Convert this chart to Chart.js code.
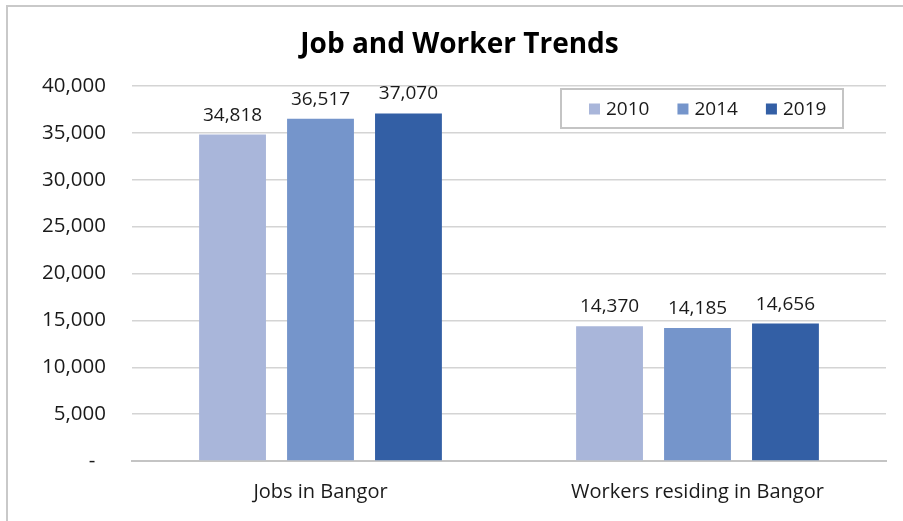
<!DOCTYPE html>
<html>
<head>
<meta charset="utf-8">
<script src="https://cdn.jsdelivr.net/npm/chart.js@4.4.1/dist/chart.umd.min.js"></script>
<style>
  html, body { margin: 0; padding: 0; background: #fff; overflow: hidden; }
  #wrap { position: relative; width: 903px; height: 521px; overflow: hidden; }
  #frame { position: absolute; left: 6px; top: 5px; width: 910px; height: 530px;
           border: 2px solid #c9c9c9; box-sizing: border-box; pointer-events: none; }
  canvas { position: absolute; left: 0; top: 0; }
</style>
</head>
<body>
<div id="wrap">
  <canvas id="chart" width="903" height="521"></canvas>
  <div id="frame"></div>
</div>
<script>
const categories = ["Jobs in Bangor", "Workers residing in Bangor"];
const years = ["2010", "2014", "2019"];
const values2010 = [34818, 14370];
const values2014 = [36517, 14185];
const values2019 = [37070, 14656];
const yTicks = [0, 5000, 10000, 15000, 20000, 25000, 30000, 35000, 40000];
const chartTitle = "Job and Worker Trends";

const colors = ["#a9b6da", "#7595cb", "#335fa5"];
const FONT = "'Open Sans', sans-serif";

// accounting style: zero shows as a dash, set in a little from the right
const fmt = (v) => (v === 0 ? "-  " : v.toLocaleString("en-US"));

// title drawn by hand so it can sit a bit right of centre like the original
const titlePlugin = {
  id: "titlePlugin",
  afterDraw(chart) {
    const ctx = chart.ctx;
    ctx.save();
    ctx.font = "bold 28px " + FONT;
    ctx.fillStyle = "#000";
    ctx.textAlign = "center";
    ctx.textBaseline = "alphabetic";
    ctx.fillText(chartTitle, chart.width / 2 + 8, 53);
    ctx.restore();
  },
};

// value labels above each bar
const barLabels = {
  id: "barLabels",
  afterDatasetsDraw(chart) {
    const ctx = chart.ctx;
    ctx.save();
    ctx.font = "19px " + FONT;
    ctx.fillStyle = "#1a1a1a";
    ctx.textAlign = "center";
    ctx.textBaseline = "alphabetic";
    chart.data.datasets.forEach((ds, i) => {
      const meta = chart.getDatasetMeta(i);
      meta.data.forEach((bar, j) => {
        ctx.fillText(ds.data[j].toLocaleString("en-US"), bar.x, bar.y - 14);
      });
    });
    ctx.restore();
  },
};

// boxed legend sitting inside the plot, top right
const boxLegend = {
  id: "boxLegend",
  afterDraw(chart) {
    const ctx = chart.ctx;
    const area = chart.chartArea;
    const w = 282, h = 39;
    const left = area.right - 43 - w;
    const top = area.top + 3;
    ctx.save();
    ctx.fillStyle = "#fff";
    ctx.fillRect(left, top, w, h);
    ctx.strokeStyle = "#c4c4c4";
    ctx.lineWidth = 2;
    ctx.strokeRect(left, top, w, h);
    ctx.font = "19px " + FONT;
    ctx.textBaseline = "middle";
    ctx.textAlign = "left";
    let x = left + 28;
    const cy = top + h / 2 + 0.5;
    chart.data.datasets.forEach((ds) => {
      ctx.fillStyle = ds.backgroundColor;
      ctx.fillRect(x, cy - 5.5, 11, 11);
      ctx.fillStyle = "#1a1a1a";
      ctx.fillText(ds.label, x + 17, cy + 1);
      x += 17 + ctx.measureText(ds.label).width + 28;
    });
    ctx.restore();
  },
};

new Chart(document.getElementById("chart"), {
  type: "bar",
  data: {
    labels: categories,
    datasets: [
      { label: years[0], data: values2010, backgroundColor: colors[0] },
      { label: years[1], data: values2014, backgroundColor: colors[1] },
      { label: years[2], data: values2019, backgroundColor: colors[2] },
    ],
  },
  options: {
    responsive: false,
    animation: false,
    devicePixelRatio: 1,
    layout: { padding: { top: 86, left: 7, right: 17, bottom: 0 } },
    datasets: { bar: { categoryPercentage: 0.7, barPercentage: 0.76 } },
    plugins: {
      legend: { display: false },
      tooltip: { enabled: false },
      title: { display: false },
    },
    scales: {
      x: {
        afterFit(scale) { scale.height = 60; },
        grid: { display: false },
        border: { display: true, color: "#c4c4c4", width: 2 },
        ticks: { color: "#1a1a1a", font: { family: FONT, size: 20 }, padding: 11 },
      },
      y: {
        min: 0,
        max: 40000,
        afterFit(scale) { scale.width = 125; },
        afterBuildTicks(scale) { scale.ticks = yTicks.map((v) => ({ value: v })); },
        border: { display: false },
        grid: { color: "#d4d4d4", lineWidth: 1.5, drawTicks: false },
        ticks: {
          color: "#1a1a1a",
          font: { family: FONT, size: 20.5 },
          padding: 26,
          callback: (v) => fmt(v),
        },
      },
    },
  },
  plugins: [barLabels, boxLegend, titlePlugin],
});
</script>
</body>
</html>
